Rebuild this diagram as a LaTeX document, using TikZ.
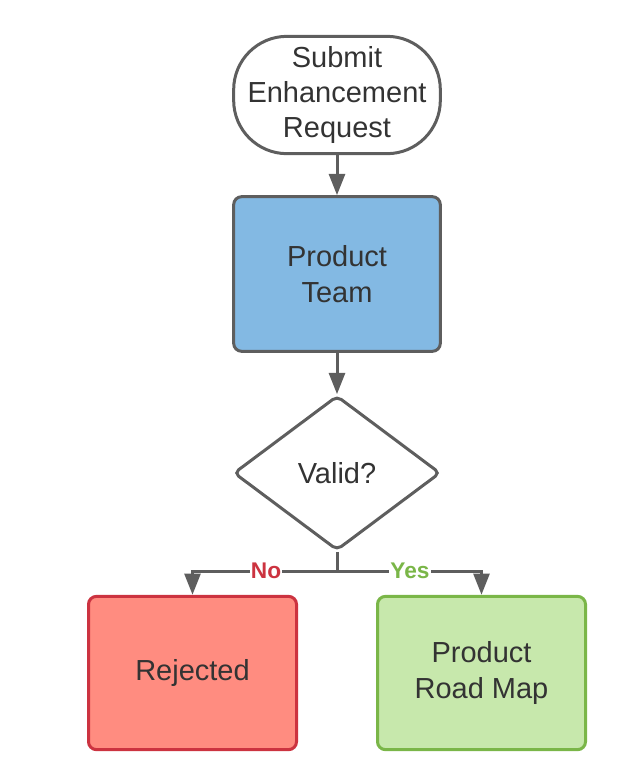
\documentclass[tikz,border=0pt]{standalone}
\usepackage{fontspec}
\setmainfont{Liberation Sans}
\usetikzlibrary{arrows.meta}
\usetikzlibrary{shapes}

\definecolor{edgegray}{HTML}{5E5E5E}
\definecolor{txtgray}{HTML}{333333}
\definecolor{teamblue}{HTML}{83B9E3}
\definecolor{rejfill}{HTML}{FF8C80}
\definecolor{rejline}{HTML}{CC3340}
\definecolor{mapfill}{HTML}{C7E8AC}
\definecolor{mapline}{HTML}{7AB648}

\begin{document}
\begin{tikzpicture}[x=0.75pt,y=-0.75pt,
		box/.style={draw=edgegray, line width=2.25pt, rounded corners=6pt,
			text=txtgray, align=center, inner sep=0pt,
			font=\fontsize{21.75}{26.6}\selectfont},
		flow/.style={draw=edgegray, line width=2.25pt,
			-{Triangle[length=16pt,width=12pt]}},
		answer/.style={fill=white, inner sep=1pt,
			font=\fontsize{17}{18}\selectfont\bfseries}]
			\useasboundingbox (0,0) rectangle (628,776);
		%% \node[options] (label) at (coord) {content};
			\node[box, rounded corners=40pt, minimum width=155pt, minimum height=88pt]
				(submit) at (337,95) {Submit\\Enhancement\\Request};
			\node[box, fill=teamblue, minimum width=155pt, minimum height=116pt]
				(team) at (337,274) {Product\\Team};
			\node[box, shape=diamond, rounded corners=4pt,
				minimum width=155pt, minimum height=116pt]
				(valid) at (337,473) {Valid?};
			\node[box, draw=rejline, fill=rejfill, minimum width=156pt, minimum height=115pt]
				(rejected) at (192.5,673) {Rejected};
			\node[box, draw=mapline, fill=mapfill, minimum width=156pt, minimum height=115pt]
				(roadmap) at (481.5,673) {Product\\Road Map};
			\coordinate (fork) at (337,571);
			\draw[flow] (submit) -- (team);
			\draw[flow] (team) -- (valid);
			\draw[flow] (valid.south) -- (fork) -| (rejected.north);
			\draw[flow] (fork) -| (roadmap.north);
			\node[answer, text=rejline] (no) at (266,571) {No};
			\node[answer, text=mapline] (yes) at (410,571) {Yes};
		\end{tikzpicture}
\end{document}
